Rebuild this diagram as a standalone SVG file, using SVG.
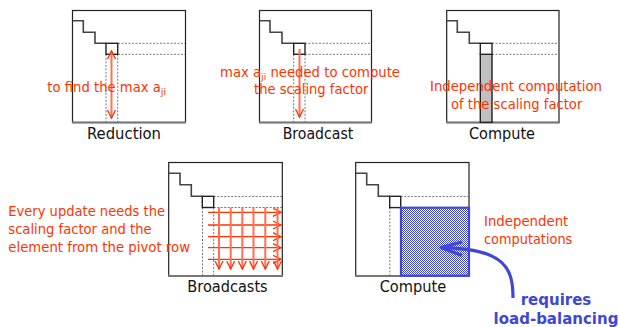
<svg xmlns="http://www.w3.org/2000/svg" width="619" height="327" viewBox="0 0 619 327">
<defs>
<style>
.box{fill:#fff;stroke:#222;stroke-width:1.2}
.bot{stroke:#777;stroke-width:2.2}
.stair{fill:none;stroke:#444;stroke-width:1.6}
.piv{fill:#fff;stroke:#222;stroke-width:1.4}
.dash{fill:none;stroke:#777;stroke-width:1;stroke-dasharray:2,1.5}
.lbl{font-family:"DejaVu Sans",sans-serif;font-size:15px;fill:#111;text-anchor:middle}
.rt{font-family:"DejaVu Sans",sans-serif;font-size:13.6px;fill:#ff3300}
.sub{font-size:9.5px}
.rl{stroke:#ff6f55;stroke-width:2;fill:none}
.rh{stroke:#ff3300;stroke-width:1.3;fill:none}
.bt{font-family:"DejaVu Sans",sans-serif;font-size:15px;font-weight:bold;fill:#4046d6;text-anchor:middle}
</style>
<pattern id="chk" width="2" height="2" patternUnits="userSpaceOnUse">
<rect width="2" height="2" fill="#fff"/>
<rect width="1" height="1" fill="#4046d6"/>
<rect x="1" y="1" width="1" height="1" fill="#4046d6"/>
</pattern>
<marker id="vh" markerWidth="10" markerHeight="10" refX="8" refY="5" orient="auto" markerUnits="userSpaceOnUse">
<path d="M0,1 L8,5 L0,9" fill="none" stroke="#ff3300" stroke-width="1.3"/>
</marker>
<marker id="vs" markerWidth="10" markerHeight="10" refX="8" refY="5" orient="auto-start-reverse" markerUnits="userSpaceOnUse">
<path d="M0,1 L8,5 L0,9" fill="none" stroke="#ff3300" stroke-width="1.3"/>
</marker>
</defs>
<rect width="619" height="327" fill="#fff"/>

<g id="reduction">
<rect class="box" x="72.5" y="10.5" width="113" height="112"/>
<line class="bot" x1="72" y1="122.5" x2="186" y2="122.5"/>
<polyline class="stair" points="72.5,20.7 83.3,20.7 83.3,32.3 95,32.3 95,43.3 106,43.3"/>
<polyline class="dash" points="118,43.3 185,43.3"/>
<polyline class="dash" points="118,54.3 185,54.3"/>
<polyline class="dash" points="106,54.3 106,122"/>
<polyline class="dash" points="117.7,54.3 117.7,122"/>
<rect class="piv" x="106" y="43.3" width="11.7" height="11"/>
<line class="rl" x1="111.5" y1="51" x2="111.5" y2="118" marker-start="url(#vs)" marker-end="url(#vs)"/>
<text class="rt" x="47.3" y="91.5" style="font-size:13.2px">to find the max a<tspan class="sub" dy="3">ji</tspan></text>
<text class="lbl" x="124" y="139.3" textLength="74" lengthAdjust="spacingAndGlyphs">Reduction</text>
</g>

<g id="broadcast">
<rect class="box" x="259.5" y="10.5" width="112" height="112"/>
<line class="bot" x1="259" y1="122.5" x2="372" y2="122.5"/>
<polyline class="stair" points="259.5,20.7 270,20.7 270,32.3 282,32.3 282,43.3 293.7,43.3"/>
<polyline class="dash" points="305,43.3 371,43.3"/>
<polyline class="dash" points="305,54.3 371,54.3"/>
<polyline class="dash" points="293.7,54.3 293.7,122"/>
<polyline class="dash" points="305,54.3 305,122"/>
<rect class="piv" x="293.7" y="43.3" width="11.3" height="11"/>
<line class="rl" x1="299.5" y1="49" x2="299.5" y2="117" marker-end="url(#vh)"/>
<text class="rt" x="220" y="76.5" textLength="180" lengthAdjust="spacingAndGlyphs">max a<tspan class="sub" dy="3">ji</tspan><tspan dy="-3"> needed to compute</tspan></text>
<text class="rt" x="254" y="94" textLength="114.3" lengthAdjust="spacingAndGlyphs">the scaling factor</text>
<text class="lbl" x="318" y="139.3" textLength="70.6" lengthAdjust="spacingAndGlyphs">Broadcast</text>
</g>

<g id="compute1">
<rect class="box" x="446.7" y="10.5" width="112.3" height="112"/>
<line class="bot" x1="446" y1="122.5" x2="559.5" y2="122.5"/>
<polyline class="stair" points="446.7,20.7 457.3,20.7 457.3,32.3 469.3,32.3 469.3,43.3 480.3,43.3"/>
<polyline class="dash" points="492,43.3 558.5,43.3"/>
<polyline class="dash" points="492,54.3 558.5,54.3"/>
<rect x="480.3" y="54.3" width="11.7" height="68" fill="#c0c0c0" stroke="#222" stroke-width="1.4"/>
<rect class="piv" x="480.3" y="43.3" width="11.7" height="11"/>
<text class="rt" x="430" y="91" textLength="172" lengthAdjust="spacingAndGlyphs">Independent computation</text>
<text class="rt" x="451" y="109.3" textLength="131.3" lengthAdjust="spacingAndGlyphs">of the scaling factor</text>
<text class="lbl" x="502" y="139.3" textLength="66" lengthAdjust="spacingAndGlyphs">Compute</text>
</g>

<g id="broadcasts">
<rect class="box" x="168.7" y="162.5" width="113.6" height="113.5"/>
<line class="bot" x1="168" y1="276" x2="283" y2="276"/>
<polyline class="stair" points="168.7,173.3 180,173.3 180,184.7 191.3,184.7 191.3,196.3 202.3,196.3"/>
<polyline class="dash" points="213.7,196.5 282,196.5"/>
<polyline class="dash" points="213.7,207.5 282,207.5"/>
<polyline class="dash" points="202.5,207.5 202.5,275"/>
<polyline class="dash" points="213.7,207.5 213.7,275"/>
<rect class="piv" x="202.3" y="196.3" width="11.4" height="11.2"/>
<g>
<line class="rh" x1="208" y1="212.3" x2="281" y2="212.3" marker-end="url(#vh)"/>
<line class="rh" x1="208" y1="225" x2="281" y2="225" marker-end="url(#vh)"/>
<line class="rh" x1="208" y1="236.7" x2="281" y2="236.7" marker-end="url(#vh)"/>
<line class="rh" x1="208" y1="247.7" x2="281" y2="247.7" marker-end="url(#vh)"/>
<line class="rh" x1="208" y1="259.3" x2="281" y2="259.3" marker-end="url(#vh)"/>
<line class="rl" x1="219" y1="207.5" x2="219" y2="269" marker-end="url(#vh)"/>
<line class="rl" x1="230.7" y1="207.5" x2="230.7" y2="269" marker-end="url(#vh)"/>
<line class="rl" x1="242.3" y1="207.5" x2="242.3" y2="269" marker-end="url(#vh)"/>
<line class="rl" x1="253.5" y1="207.5" x2="253.5" y2="269" marker-end="url(#vh)"/>
<line class="rl" x1="265.3" y1="207.5" x2="265.3" y2="269" marker-end="url(#vh)"/>
<line class="rl" x1="277.5" y1="207.5" x2="277.5" y2="269" marker-end="url(#vh)"/>
</g>
<text class="rt" x="8.3" y="216" textLength="156.7" lengthAdjust="spacingAndGlyphs">Every update needs the</text>
<text class="rt" x="8.3" y="234" textLength="143.3" lengthAdjust="spacingAndGlyphs">scaling factor and the</text>
<text class="rt" x="8.3" y="252.3" textLength="181.7" lengthAdjust="spacingAndGlyphs">element from the pivot row</text>
<text class="lbl" x="227.5" y="291.5" textLength="80.4" lengthAdjust="spacingAndGlyphs">Broadcasts</text>
</g>

<g id="compute2">
<rect class="box" x="355.7" y="162.5" width="113.3" height="113.5"/>
<line class="bot" x1="355" y1="276" x2="470" y2="276"/>
<polyline class="stair" points="355.7,173.3 366.7,173.3 366.7,184.7 378.3,184.7 378.3,196.3 389.7,196.3"/>
<polyline class="dash" points="400.7,196.5 469,196.5"/>
<polyline class="dash" points="389.8,207.5 389.8,275"/>
<rect class="piv" x="389.7" y="196.3" width="11" height="11.3"/>
<rect x="401" y="207.7" width="68" height="68" fill="url(#chk)" stroke="#4046d6" stroke-width="2.2"/>
<text class="rt" x="484" y="226.3" textLength="84.3" lengthAdjust="spacingAndGlyphs">Independent</text>
<text class="rt" x="484" y="244.3" textLength="88.3" lengthAdjust="spacingAndGlyphs">computations</text>
<text class="lbl" x="413" y="291.5" textLength="66.7" lengthAdjust="spacingAndGlyphs">Compute</text>
</g>

<g id="connectors">
<path d="M513,298 C513,268 505,249 443,247.7" fill="none" stroke="#4046d6" stroke-width="3.2"/>
<path d="M462,242 L441,247.5 L462,255.5" fill="none" stroke="#4046d6" stroke-width="3.2" stroke-linejoin="round"/>
</g>

<g id="note">
<text class="bt" x="556" y="305.3">requires</text>
<text class="bt" x="556" y="324">load-balancing</text>
</g>
</svg>
